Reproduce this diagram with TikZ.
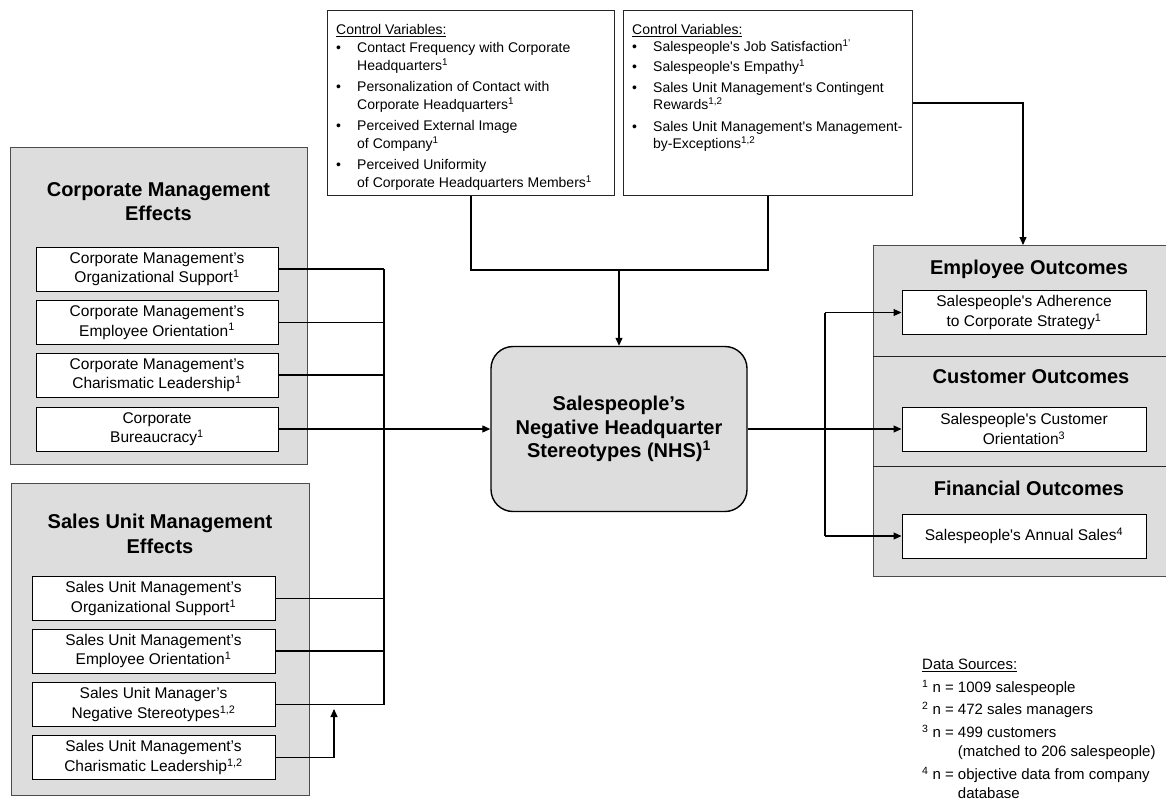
\documentclass[tikz,border=0pt]{standalone}
\usepackage{fontspec}
\setmainfont{Liberation Sans}
\usetikzlibrary{arrows.meta}
\begin{document}
\begin{tikzpicture}[x=1pt,y=-1pt,
  grp/.style={draw=black!70, line width=1pt, fill=gray!27, inner sep=0pt},
  ibox/.style={draw=black, line width=1pt, fill=white, inner sep=0pt, minimum height=44pt, align=center, font=\fontsize{15.5}{19.5}\selectfont},
  title/.style={font=\bfseries\fontsize{20}{24.7}\selectfont, align=center, inner sep=0pt},
  cvbox/.style={draw=black!85, line width=1pt, fill=white, inner sep=0pt, minimum height=185pt, anchor=north west},
  cvtext/.style={font=\fontsize{14}{17.5}\selectfont, inner sep=0pt, anchor=north west},
  conn/.style={draw=black, line width=1.1pt},
  arr/.style={conn, -{Triangle[length=8pt,width=7pt]}}]
\useasboundingbox (0,0) rectangle (1166,800);
\clip (0,0) rectangle (1166,800);

% ---------- left groups ----------
\node[grp, minimum width=297pt, minimum height=317pt] (cmg) at (158.5,305.5) {};
\node[title] (cmt) at (158.5,201.5) {Corporate Management\\Effects};
\node[ibox, minimum width=242pt] (cm1) at (157,269) {Corporate Management’s\\Organizational Support\textsuperscript{1}};
\node[ibox, minimum width=242pt] (cm2) at (157,322.5) {Corporate Management’s\\Employee Orientation\textsuperscript{1}};
\node[ibox, minimum width=242pt] (cm3) at (157,375) {Corporate Management’s\\Charismatic Leadership\textsuperscript{1}};
\node[ibox, minimum width=242pt] (cm4) at (157,429) {Corporate\\Bureaucracy\textsuperscript{1}};

\node[grp, minimum width=298pt, minimum height=312pt] (sug) at (160,639) {};
\node[title] (sut) at (160,533.5) {Sales Unit Management\\Effects};
\node[ibox, minimum width=243pt] (su1) at (153.5,598.5) {Sales Unit Management’s\\Organizational Support\textsuperscript{1}};
\node[ibox, minimum width=243pt] (su2) at (153.5,651) {Sales Unit Management’s\\Employee Orientation\textsuperscript{1}};
\node[ibox, minimum width=243pt] (su3) at (153.5,704.5) {Sales Unit Manager’s\\Negative Stereotypes\textsuperscript{1,2}};
\node[ibox, minimum width=243pt] (su4) at (153.5,757.5) {Sales Unit Management’s\\Charismatic Leadership\textsuperscript{1,2}};

% ---------- centre ----------
\node[draw=black, line width=1.4pt, rounded corners=22pt, fill=gray!27, minimum width=256pt, minimum height=165pt, inner sep=0pt, align=center, font=\bfseries\fontsize{20}{23.5}\selectfont] (nhs) at (619,429) {Salespeople’s\\Negative Headquarter\\Stereotypes (NHS)\textsuperscript{1}};

% ---------- control variables ----------
\node[cvbox, minimum width=287pt] (cv1) at (327,10) {};
\node[cvtext] (cv1t) at (336,22.5) {\begin{tabular}{@{}p{21pt}@{}l@{}}
\multicolumn{2}{@{}l@{}}{\underline{Control Variables:}}\\[0.5pt]
\textbullet & Contact Frequency with Corporate\\
 & Headquarters\textsuperscript{1}\\[4pt]
\textbullet & Personalization of Contact with\\
 & Corporate Headquarters\textsuperscript{1}\\[4pt]
\textbullet & Perceived External Image\\
 & of Company\textsuperscript{1}\\[4pt]
\textbullet & Perceived Uniformity\\
 & of Corporate Headquarters Members\textsuperscript{1}
\end{tabular}};

\node[cvbox, minimum width=289pt] (cv2) at (623,10) {};
\node[cvtext] (cv2t) at (632,22.5) {\begin{tabular}{@{}p{21pt}@{}l@{}}
\multicolumn{2}{@{}l@{}}{\underline{Control Variables:}}\\[-1pt]
\textbullet & Salespeople\textquotesingle s Job Satisfaction\textsuperscript{1’}\\[3pt]
\textbullet & Salespeople\textquotesingle s Empathy\textsuperscript{1}\\[3pt]
\textbullet & Sales Unit Management\textquotesingle s Contingent\\
 & Rewards\textsuperscript{1,2}\\[4pt]
\textbullet & Sales Unit Management\textquotesingle s Management-\\
 & by-Exceptions\textsuperscript{1,2}
\end{tabular}};

% ---------- outcomes ----------
\node[grp, anchor=north west, minimum width=312pt, minimum height=331pt] (og) at (873,245) {};
\draw[black!85, line width=1pt] (873,356) -- (1185,356);
\draw[black!85, line width=1pt] (873,466) -- (1185,466);
\node[title] (empt) at (1029,269) {Employee Outcomes};
\node[title] (custt) at (1031,377) {Customer Outcomes};
\node[title] (fint) at (1029,488) {Financial Outcomes};
\node[ibox, minimum width=244pt] (emp) at (1024,312.5) {Salespeople\textquotesingle s Adherence\\to Corporate Strategy\textsuperscript{1}};
\node[ibox, minimum width=244pt] (cust) at (1024,429) {Salespeople\textquotesingle s Customer\\Orientation\textsuperscript{3}};
\node[ibox, minimum width=244pt] (fin) at (1024,536) {Salespeople\textquotesingle s Annual Sales\textsuperscript{4}};

% ---------- data sources ----------
\node[font=\fontsize{15}{19.5}\selectfont, anchor=north west, inner sep=0pt] (ds) at (922,656) {\begin{tabular}{@{}l@{}l@{}}
\multicolumn{2}{@{}l@{}}{\underline{Data Sources:}}\\[3pt]
\textsuperscript{1} n =\hspace{4pt} & 1009 salespeople\\[3pt]
\textsuperscript{2} n =\hspace{4pt} & 472 sales managers\\[3pt]
\textsuperscript{3} n =\hspace{4pt} & 499 customers\\
 & (matched to 206 salespeople)\\[3pt]
\textsuperscript{4} n =\hspace{4pt} & objective data from company\\
 & database
\end{tabular}};

% ---------- connectors, left ----------
\coordinate (bus) at (384,0);
\draw[conn] (cm1.east) -- (cm1.east -| bus);
\draw[conn] (cm2.east) -- (cm2.east -| bus);
\draw[conn] (cm3.east) -- (cm3.east -| bus);
\draw[conn] (su1.east) -- (su1.east -| bus);
\draw[conn] (su2.east) -- (su2.east -| bus);
\draw[conn] (su3.east) -- (su3.east -| bus);
\draw[conn] (cm1.east -| bus) -- (su3.east -| bus);
\draw[arr] (cm4.east) -- (nhs.west);
\coordinate (sutip) at (334,709);
\draw[arr] (su4.east) -| (sutip);

% ---------- connectors, top ----------
\coordinate (cvj) at (619,270);
\draw[conn] (cv1.south) |- (cvj) -| (cv2.south);
\draw[arr] (cvj) -- (nhs.north);
\coordinate (otop) at (1023,245);
\draw[arr] (cv2.east) -| (otop);

% ---------- connectors, right ----------
\coordinate (rbus) at (825,0);
\draw[arr] (nhs.east) -- (cust.west);
\draw[conn] (emp.west -| rbus) -- (fin.west -| rbus);
\draw[arr] (emp.west -| rbus) -- (emp.west);
\draw[arr] (fin.west -| rbus) -- (fin.west);
\end{tikzpicture}
\end{document}
